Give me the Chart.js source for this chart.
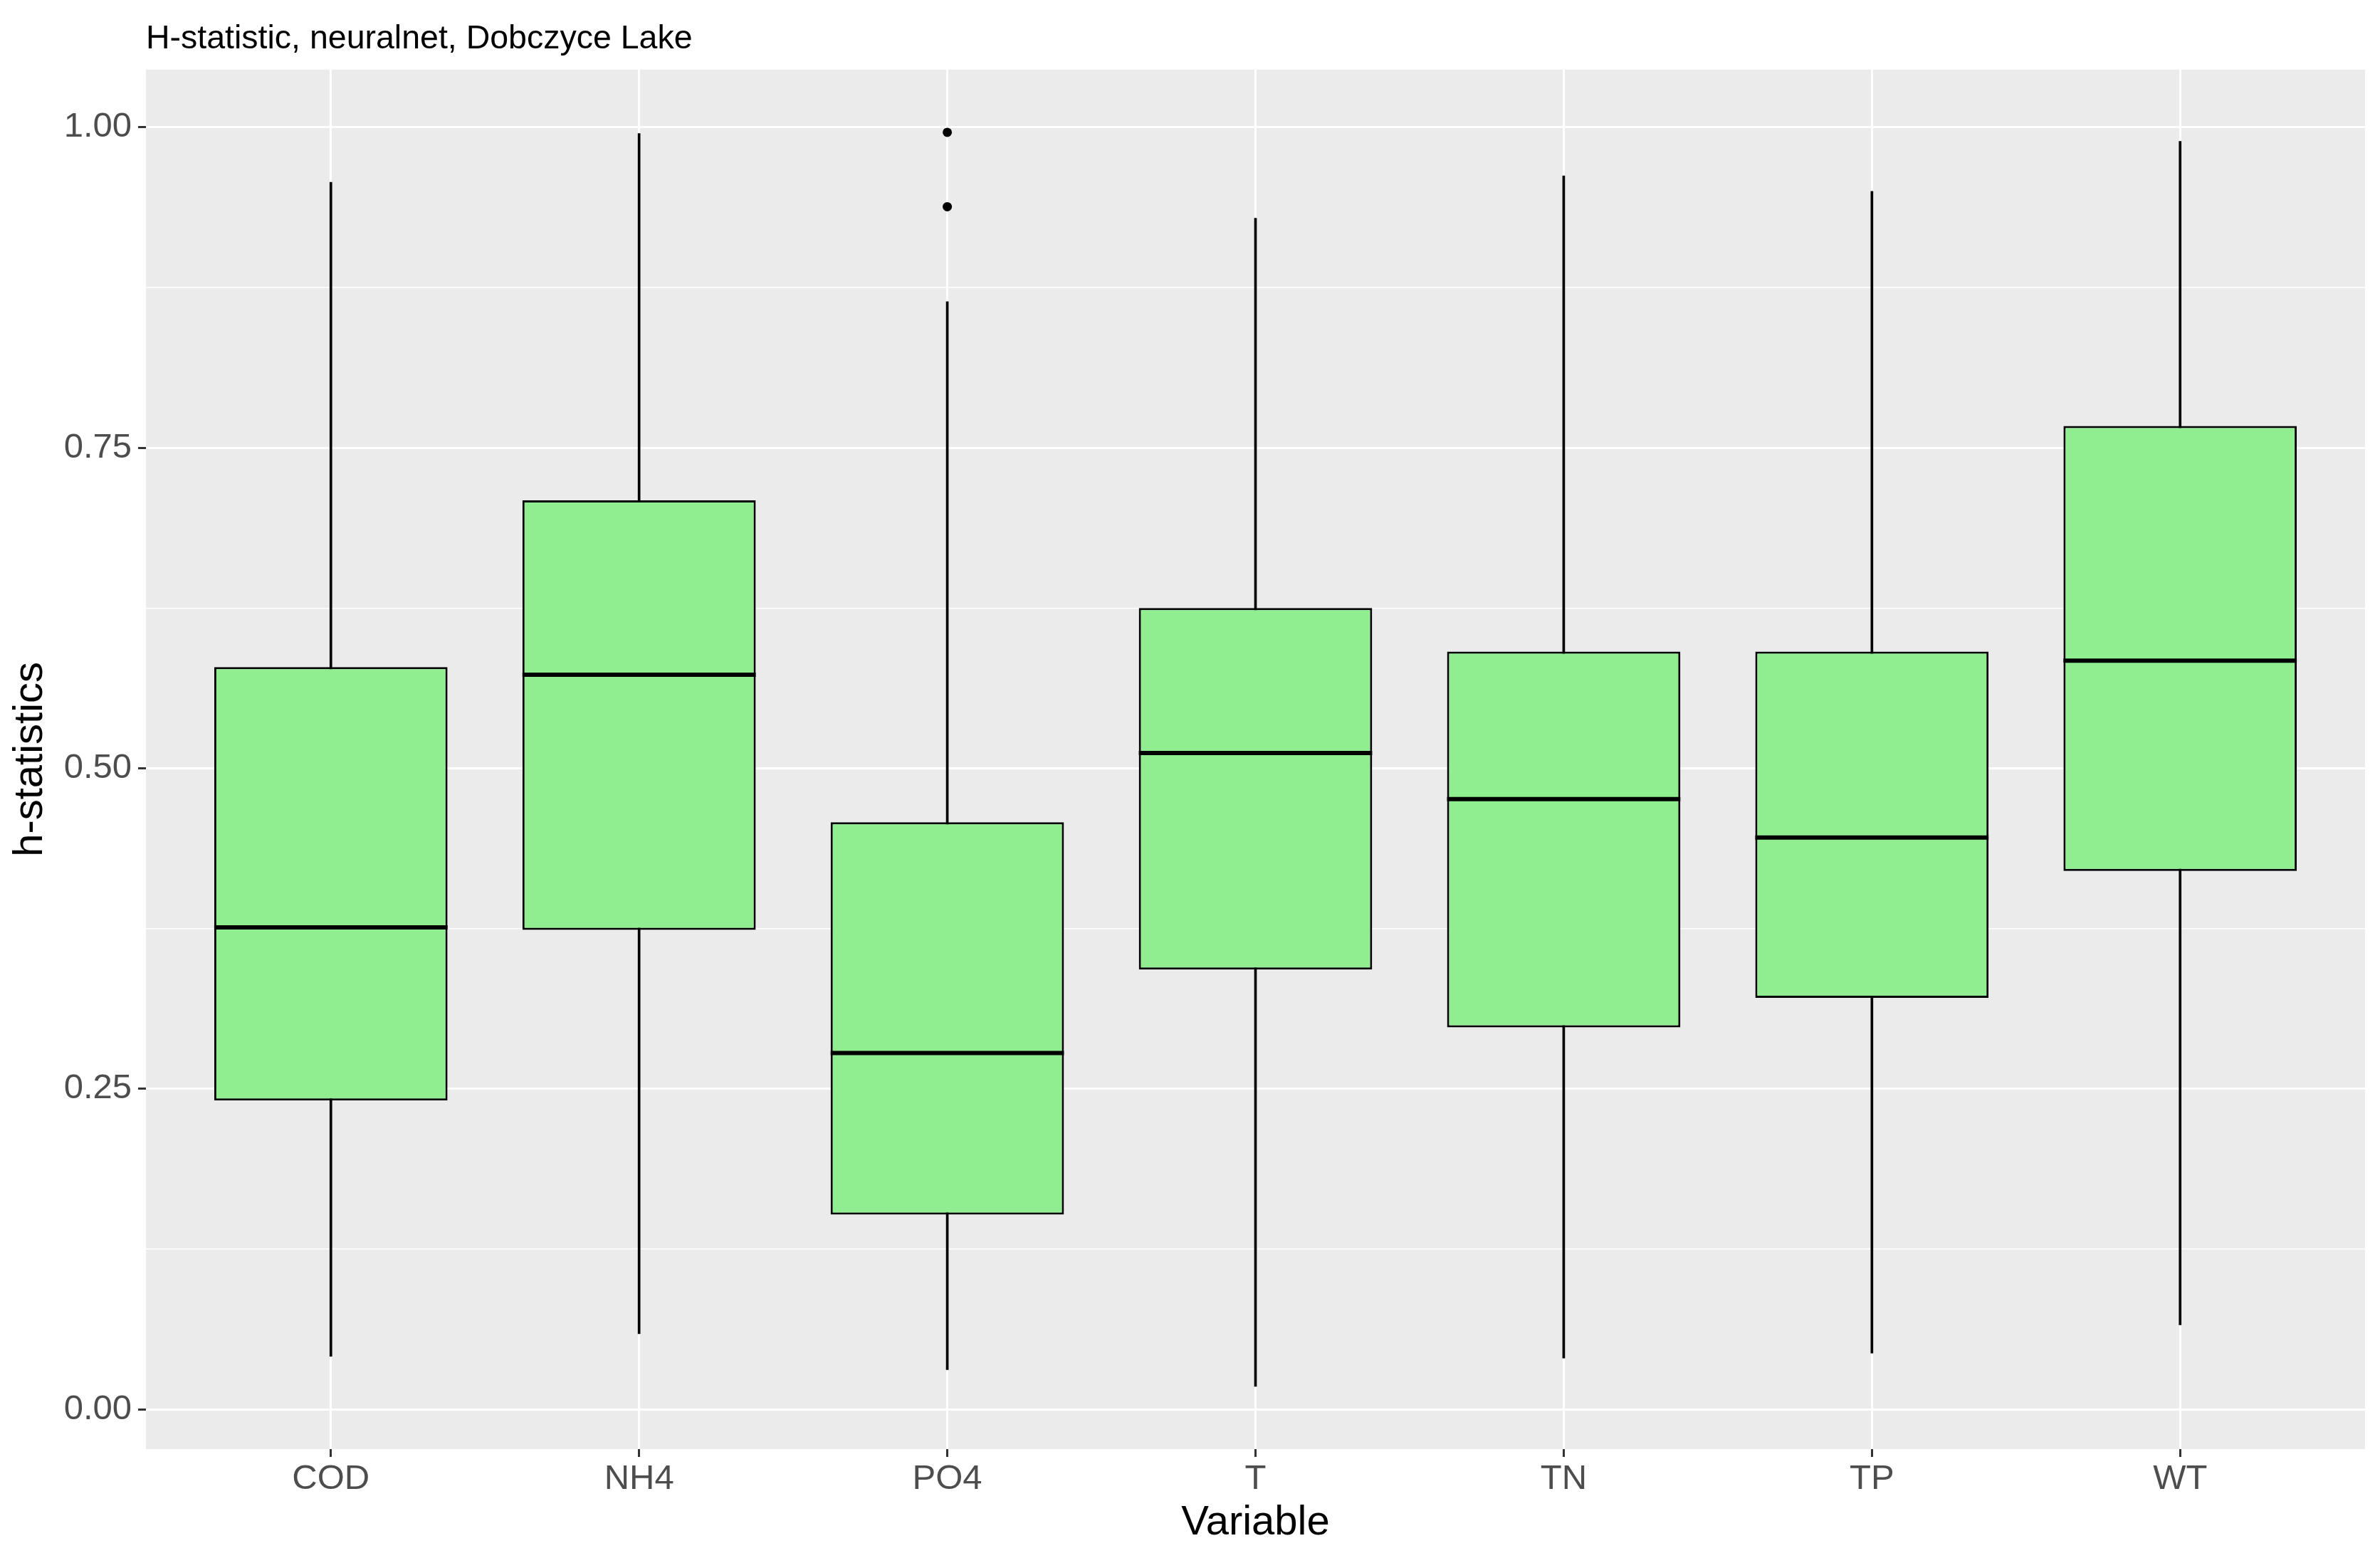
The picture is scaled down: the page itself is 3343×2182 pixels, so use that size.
<!DOCTYPE html>
<html>
<head>
<meta charset="utf-8">
<script src="https://cdn.jsdelivr.net/npm/chart.js@4.4.1/dist/chart.umd.min.js"></script>
<style>
  html, body { margin: 0; padding: 0; background: #ffffff; }
  #wrap { width: 3343px; height: 2182px; }
</style>
</head>
<body>
<div id="wrap"><canvas id="c" width="3343" height="2182"></canvas></div>
<script>
// ---- data ----
const categories   = ['COD', 'NH4', 'PO4', 'T', 'TN', 'TP', 'WT'];
const whiskerLow   = [0.0415, 0.059, 0.031, 0.018, 0.040, 0.044, 0.066];
const quartile1    = [0.241, 0.374, 0.152, 0.343, 0.298, 0.321, 0.420];
const medians      = [0.376, 0.573, 0.278, 0.512, 0.476, 0.446, 0.584];
const quartile3    = [0.579, 0.709, 0.458, 0.625, 0.591, 0.591, 0.767];
const whiskerHigh  = [0.957, 0.995, 0.864, 0.929, 0.962, 0.950, 0.989];
const outlierCats  = ['PO4', 'PO4'];
const outlierVals  = [0.996, 0.938];
const yMajorTicks  = [0, 0.25, 0.5, 0.75, 1.0];
const yMinorTicks  = [0.125, 0.375, 0.625, 0.875];

const titleText  = 'H-statistic, neuralnet, Dobczyce Lake';
const xAxisTitle = 'Variable';
const yAxisTitle = 'h-statistics';

// ---- derived ----
const FONT = '"Liberation Sans", Arial, Helvetica, sans-serif';
const allVals = whiskerLow.concat(whiskerHigh, outlierVals);
const dMin = Math.min(...allVals), dMax = Math.max(...allVals);
const yExp = (dMax - dMin) * 0.05;

const xOf = c => categories.indexOf(c) + 1;
const whiskerData = categories.map((c, i) => ({ x: i + 1, y: [whiskerLow[i], whiskerHigh[i]] }));
const boxData     = categories.map((c, i) => ({ x: i + 1, y: [quartile1[i], quartile3[i]] }));
const outlierData = outlierCats.map((c, i) => ({ x: xOf(c), y: outlierVals[i] }));

const isMajor = v => yMajorTicks.some(t => Math.abs(t - v) < 1e-9);

const panelBg = {
  id: 'panelBg',
  beforeDraw(chart) {
    const { ctx, chartArea: a } = chart;
    ctx.save();
    ctx.fillStyle = '#EBEBEB';
    ctx.fillRect(a.left, a.top, a.right - a.left, a.bottom - a.top);
    ctx.restore();
  }
};

const medianLines = {
  id: 'medianLines',
  afterDatasetsDraw(chart) {
    const meta = chart.getDatasetMeta(1);
    const y = chart.scales.y;
    const ctx = chart.ctx;
    ctx.save();
    ctx.strokeStyle = '#000000';
    ctx.lineWidth = 6;
    ctx.lineCap = 'butt';
    meta.data.forEach((bar, i) => {
      const p = y.getPixelForValue(medians[i]);
      const half = bar.width / 2;
      ctx.beginPath();
      ctx.moveTo(bar.x - half, p);
      ctx.lineTo(bar.x + half, p);
      ctx.stroke();
    });
    ctx.restore();
  }
};

new Chart(document.getElementById('c'), {
  type: 'bar',
  data: {
    datasets: [
      {
        label: 'whiskers',
        data: whiskerData,
        backgroundColor: '#000000',
        borderWidth: 0,
        barThickness: 3,
        grouped: false,
        order: 3
      },
      {
        label: 'box',
        data: boxData,
        backgroundColor: '#90EE90',
        borderColor: '#000000',
        borderWidth: 3,
        borderSkipped: false,
        categoryPercentage: 1,
        barPercentage: 0.757,
        grouped: false,
        order: 2
      },
      {
        type: 'scatter',
        label: 'outliers',
        data: outlierData,
        backgroundColor: '#000000',
        borderColor: '#000000',
        pointRadius: 6.5,
        pointBorderWidth: 0,
        order: 1
      }
    ]
  },
  options: {
    responsive: false,
    animation: false,
    devicePixelRatio: 1,
    layout: { padding: { left: 0, top: 0, right: 21, bottom: 0 } },
    plugins: {
      legend: { display: false },
      tooltip: { enabled: false },
      title: {
        display: true,
        text: titleText,
        align: 'start',
        fullSize: false,
        color: '#000000',
        font: { family: FONT, size: 46.5, weight: 'normal' },
        padding: { top: 27, bottom: 15 }
      }
    },
    scales: {
      x: {
        type: 'linear',
        offset: false,
        min: 0.4,
        max: categories.length + 0.6,
        afterBuildTicks: s => { s.ticks = categories.map((c, i) => ({ value: i + 1 })); },
        afterFit: s => { s.height = 146; s.paddingLeft = 0; s.paddingRight = 0; },
        border: { display: false },
        grid: {
          offset: false,
          color: '#FFFFFF',
          lineWidth: 3,
          drawTicks: true,
          tickLength: 11,
          tickColor: '#333333',
          tickWidth: 3
        },
        ticks: {
          autoSkip: false,
          maxRotation: 0,
          padding: 2,
          color: '#4D4D4D',
          font: { family: FONT, size: 49 },
          callback: v => categories[Math.round(v) - 1]
        },
        title: {
          display: true,
          text: xAxisTitle,
          color: '#000000',
          font: { family: FONT, size: 58 },
          padding: { top: 0, bottom: 7 }
        }
      },
      y: {
        type: 'linear',
        min: dMin - yExp,
        max: dMax + yExp,
        afterBuildTicks: s => {
          s.ticks = yMajorTicks.concat(yMinorTicks).sort((a, b) => a - b).map(v => ({ value: v }));
        },
        afterFit: s => { s.width = 205; s.paddingTop = 0; s.paddingBottom = 0; },
        border: { display: false },
        grid: {
          color: '#FFFFFF',
          lineWidth: c => (c.tick && isMajor(c.tick.value)) ? 3 : 1.5,
          drawTicks: true,
          tickLength: 11,
          tickColor: c => (c.tick && isMajor(c.tick.value)) ? '#333333' : 'rgba(0,0,0,0)',
          tickWidth: 3
        },
        ticks: {
          autoSkip: false,
          padding: 9,
          color: '#4D4D4D',
          font: { family: FONT, size: 49 },
          callback: v => isMajor(v) ? v.toFixed(2) : ''
        },
        title: {
          display: true,
          text: yAxisTitle,
          color: '#000000',
          font: { family: FONT, size: 58 },
          padding: { top: 8, bottom: 0 }
        }
      }
    }
  },
  plugins: [panelBg, medianLines]
});
</script>
</body>
</html>
